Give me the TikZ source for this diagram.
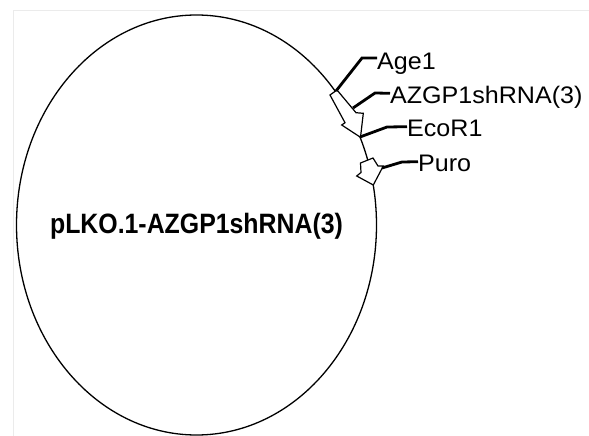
\documentclass[tikz,border=0pt]{standalone}
\usepackage{fontspec}
\setmainfont{Liberation Sans}
\newcommand{\wlab}[1]{\scalebox{1.09}[1.04]{#1}}
\begin{document}
\begin{tikzpicture}[x=1pt,y=-1pt,
  lbl/.style={anchor=base west, inner sep=0pt, text height=20pt, text depth=0pt,
    font=\fontsize{23}{23}\selectfont},
  leader/.style={line width=2.8pt, line join=miter},
  feat/.style={draw, fill=white, line width=1.2pt, line join=miter},
  ring/.style={line width=1.3pt}]
\useasboundingbox (0,0) rectangle (589,436);
\fill[white] (0,0) rectangle (589,436);
\draw[black!8, line width=0.8pt] (13,436) -- (13,10) -- (589,10);
% plasmid circle
\draw[ring] (196.5,225) ellipse [x radius=180, y radius=210];
% features
\draw[feat] (330,95) -- (337,90) -- (356,112.7) -- (363.3,113.3) -- (360.5,137.3)
  -- (341.7,125) -- (345,122.7) -- cycle;
\draw[feat] (360.5,163) -- (373,158) -- (378,166) -- (383.3,166) -- (373.3,185)
  -- (356.7,176) -- (361,172.5) -- cycle;
% sites
\coordinate (ageSite) at (336,91);
\coordinate (ageElbow) at (362,58);
\coordinate (azSite) at (353,108);
\coordinate (azElbow) at (375,93);
\coordinate (ecoSite) at (360,137);
\coordinate (ecoElbow) at (387,127);
\coordinate (puroSite) at (382,168);
\coordinate (puroElbow) at (402,162);
% labels
\node[lbl] (age) at (377,70) {\wlab{Age1}};
\node[lbl] (az) at (390,103.3) {\wlab{AZGP1shRNA(3)}};
\node[lbl] (eco) at (407,136.7) {\wlab{EcoR1}};
\node[lbl] (puro) at (418,171.7) {\wlab{Puro}};
\draw[leader] (ageSite) -- (ageElbow) -- ([yshift=2pt]age.west);
\draw[leader] (azSite) -- (azElbow) -- (az.west);
\draw[leader] (ecoSite) -- (ecoElbow) -- (eco.west);
\draw[leader] (puroSite) -- (puroElbow) -- (puro.west);
% title
\node[anchor=base, inner sep=0pt, font=\fontsize{28}{28}\selectfont\bfseries] (title)
  at (196.5,233.3) {\scalebox{0.888}[1]{pLKO.1-AZGP1shRNA(3)}};
\end{tikzpicture}
\end{document}
